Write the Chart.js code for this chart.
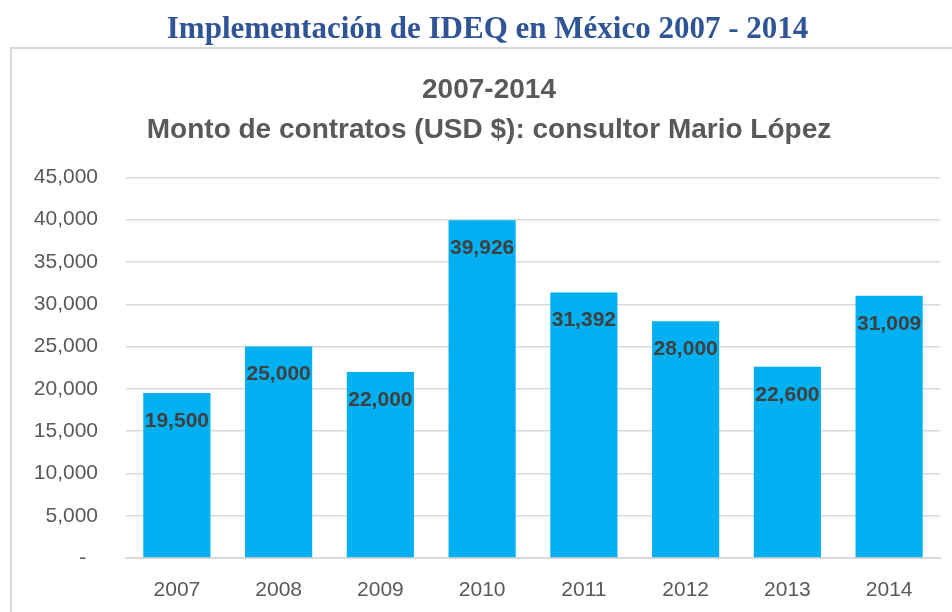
<!DOCTYPE html>
<html>
<head>
<meta charset="utf-8">
<script src="https://cdn.jsdelivr.net/npm/chart.js@4/dist/chart.umd.min.js"></script>
<style>
  html, body { margin: 0; padding: 0; background: #ffffff; }
  #wrap { position: relative; width: 952px; height: 612px; overflow: hidden; }
  #outerTitle { position: absolute; left: 0; top: 10px; width: 975px; text-align: center;
    font-family: "Liberation Serif", serif; font-weight: bold; font-size: 31px; color: #2F5597; }
  #box { position: absolute; left: 10px; top: 47px; width: 960px; height: 600px;
    border: 2px solid #d9d9d9; box-sizing: border-box; pointer-events: none; }
  #c { position: absolute; left: 0; top: 0; }
</style>
</head>
<body>
<div id="wrap">
  <canvas id="c" width="978" height="612"></canvas>
  <div id="box"></div>
  <div id="outerTitle">Implementación de IDEQ en México 2007 - 2014</div>
</div>
<script>
const categories = ['2007', '2008', '2009', '2010', '2011', '2012', '2013', '2014'];
const montos = [19500, 25000, 22000, 39926, 31392, 28000, 22600, 31009];
const titleLines = ['2007-2014', 'Monto de contratos (USD $): consultor Mario López'];

const fmt = v => v === 0 ? '-' : v.toLocaleString('en-US');

const labelPlugin = {
  id: 'barLabels',
  afterDatasetsDraw(chart) {
    const ctx = chart.ctx;
    const meta = chart.getDatasetMeta(0);
    ctx.save();
    ctx.font = 'bold 21px "Liberation Sans", Arial, sans-serif';
    ctx.fillStyle = '#404040';
    ctx.textAlign = 'center';
    ctx.textBaseline = 'middle';
    meta.data.forEach((bar, i) => {
      ctx.fillText(fmt(montos[i]), bar.x, bar.y + 28);
    });
    ctx.restore();
  }
};

new Chart(document.getElementById('c'), {
  type: 'bar',
  data: {
    labels: categories,
    datasets: [{
      data: montos,
      backgroundColor: '#00B0F0',
      borderWidth: 0,
      categoryPercentage: 1,
      barPercentage: 0.66,
      yAxisID: 'y'
    }]
  },
  options: {
    responsive: false,
    animation: false,
    layout: { padding: { left: 12, right: 12, top: 0, bottom: 0 } },
    plugins: {
      legend: { display: false },
      tooltip: { enabled: false },
      title: {
        display: true,
        text: titleLines,
        color: '#595959',
        font: { family: '"Liberation Sans", Arial, sans-serif', size: 28, weight: 'bold', lineHeight: 1.4 },
        padding: { top: 71, bottom: 28 }
      }
    },
    scales: {
      x: {
        afterFit(scale) { scale.height = 54; },
        grid: { display: false, drawTicks: false },
        border: { display: true, color: '#d9d9d9', width: 2 },
        ticks: { color: '#595959', font: { family: '"Liberation Sans", Arial, sans-serif', size: 21 }, padding: 20 }
      },
      y: {
        min: 0, max: 45000,
        afterFit(scale) { scale.width = 114; },
        grid: { color: '#d9d9d9', lineWidth: 1.5, drawTicks: false },
        border: { display: false },
        ticks: {
          stepSize: 5000,
          color: '#595959',
          padding: 28,
          font: { family: '"Liberation Sans", Arial, sans-serif', size: 21 },
          callback: v => v === 0 ? '-  ' : fmt(v)
        }
      },
      yRight: {
        position: 'right',
        min: 0, max: 45000,
        afterFit(scale) { scale.width = 26; },
        grid: { display: false, drawTicks: false },
        border: { display: false },
        ticks: { display: false }
      }
    }
  },
  plugins: [labelPlugin]
});
</script>
</body>
</html>
